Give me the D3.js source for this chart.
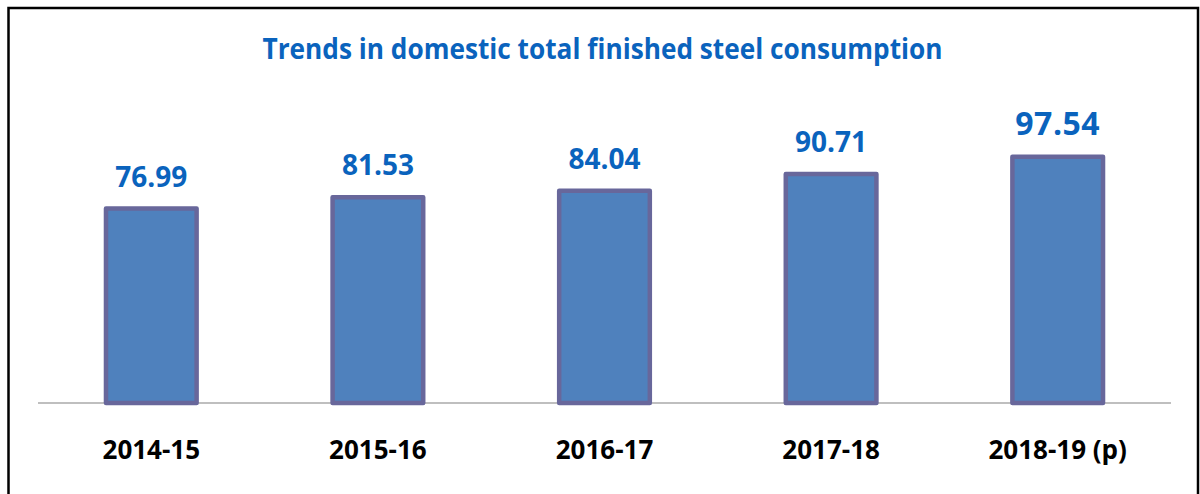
<!DOCTYPE html>
<html>
<head>
<meta charset="utf-8">
<script src="https://cdn.jsdelivr.net/npm/d3@7/dist/d3.min.js"></script>
<style>
  html, body { margin: 0; padding: 0; background: #fff; }
  svg { display: block; }
  text { font-family: "Open Sans", "Liberation Sans", sans-serif; font-weight: 700; }
</style>
</head>
<body>
<svg id="chart" width="1200" height="494"></svg>
<script>
const categories = ["2014-15", "2015-16", "2016-17", "2017-18", "2018-19 (p)"];
const values = [76.99, 81.53, 84.04, 90.71, 97.54];
const valueLabels = ["76.99", "81.53", "84.04", "90.71", "97.54"];
const title = "Trends in domestic total finished steel consumption";

const svg = d3.select("#chart");

// outer frame
svg.append("rect")
  .attr("x", 8.5).attr("y", 8)
  .attr("width", 1189.5).attr("height", 500)
  .attr("fill", "#fff")
  .attr("stroke", "#000").attr("stroke-width", 2.5);

const x = d3.scaleBand().domain(categories).range([38, 1171]).paddingInner(0).paddingOuter(0);
const y = d3.scaleLinear().domain([0, 100]).range([403, 150.5]);

// title
svg.append("text")
  .attr("x", 602.5).attr("y", 58.5)
  .attr("text-anchor", "middle")
  .attr("fill", "#0a63bd")
  .attr("font-size", 29)
  .attr("textLength", 680)
  .attr("lengthAdjust", "spacingAndGlyphs")
  .text(title);

// baseline
svg.append("line")
  .attr("x1", x.range()[0]).attr("x2", x.range()[1])
  .attr("y1", y(0)).attr("y2", y(0))
  .attr("stroke", "#bfbfbf").attr("stroke-width", 2);

const bw = x.bandwidth() * 0.4;
const last = values.length - 1;

const g = svg.append("g");
g.selectAll("rect.bar")
  .data(values)
  .join("rect")
  .attr("class", "bar")
  .attr("x", (d, i) => x(categories[i]) + x.bandwidth() / 2 - bw / 2)
  .attr("y", d => y(d))
  .attr("width", bw)
  .attr("height", d => y(0) - y(d))
  .attr("fill", "#4f81bd")
  .attr("stroke", "#68679b")
  .attr("stroke-width", 4.5)
  .attr("stroke-linejoin", "round");

// value labels (latest year emphasised)
g.selectAll("text.val")
  .data(values)
  .join("text")
  .attr("class", "val")
  .attr("x", (d, i) => x(categories[i]) + x.bandwidth() / 2)
  .attr("y", d => y(d) - 22)
  .attr("text-anchor", "middle")
  .attr("fill", "#0a63bd")
  .attr("font-size", (d, i) => i === last ? 32 : 28)
  .attr("letter-spacing", (d, i) => i === last ? 0.5 : 0)
  .text((d, i) => valueLabels[i]);

// category axis labels
const axis = d3.axisBottom(x).tickSize(0).tickPadding(0);
const ag = svg.append("g").attr("transform", `translate(0,${y(0)})`).call(axis);
ag.select(".domain").remove();
ag.selectAll(".tick text")
  .attr("y", 56)
  .attr("dy", 0)
  .attr("fill", "#000")
  .attr("font-size", 26)
  .attr("font-family", "\"Open Sans\", \"Liberation Sans\", sans-serif")
  .attr("font-weight", 700);
</script>
</body>
</html>
